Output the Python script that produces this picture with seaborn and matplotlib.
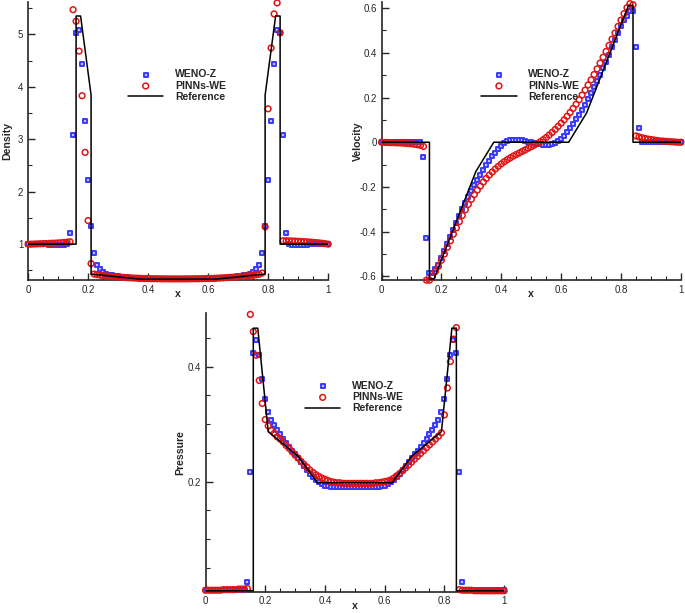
import matplotlib
matplotlib.use("Agg")
import matplotlib.pyplot as plt
import seaborn as sns
from matplotlib.ticker import MultipleLocator, FuncFormatter

# sample locations of the two numerical solutions
x_grid = [0.0, 0.01, 0.02, 0.03, 0.04, 0.05, 0.06, 0.07, 0.08, 0.09,
          0.1, 0.11, 0.12, 0.13, 0.14, 0.15, 0.16, 0.17, 0.18, 0.19,
          0.2, 0.21, 0.22, 0.23, 0.24, 0.25, 0.26, 0.27, 0.28, 0.29,
          0.3, 0.31, 0.32, 0.33, 0.34, 0.35, 0.36, 0.37, 0.38, 0.39,
          0.4, 0.41, 0.42, 0.43, 0.44, 0.45, 0.46, 0.47, 0.48, 0.49,
          0.5, 0.51, 0.52, 0.53, 0.54, 0.55, 0.56, 0.57, 0.58, 0.59,
          0.6, 0.61, 0.62, 0.63, 0.64, 0.65, 0.66, 0.67, 0.68, 0.69,
          0.7, 0.71, 0.72, 0.73, 0.74, 0.75, 0.76, 0.77, 0.78, 0.79,
          0.8, 0.81, 0.82, 0.83, 0.84, 0.85, 0.86, 0.87, 0.88, 0.89,
          0.9, 0.91, 0.92, 0.93, 0.94, 0.95, 0.96, 0.97, 0.98, 0.99, 1.0]

# density
dens_weno = [1.0, 1.0, 1.0, 1.0, 0.995, 0.995, 0.995, 0.99, 0.99, 0.99, 0.99, 0.99, 0.99, 0.995,
             1.21, 3.08, 5.02, 5.08, 4.43, 3.34, 2.22, 1.35, 0.84, 0.61, 0.52,
             0.46, 0.44, 0.42, 0.405, 0.395, 0.385, 0.378, 0.372, 0.366, 0.36, 0.355, 0.35, 0.346, 0.342, 0.338, 0.335,
             0.333, 0.332, 0.331, 0.33, 0.33, 0.33, 0.33, 0.33, 0.33, 0.33, 0.33, 0.33, 0.33, 0.33, 0.33, 0.33, 0.331, 0.332, 0.333,
             0.335, 0.338, 0.342, 0.346, 0.35, 0.355, 0.36, 0.366, 0.372, 0.378, 0.385, 0.395, 0.405, 0.42, 0.44, 0.46,
             0.52, 0.61, 0.84, 1.35, 2.22, 3.34, 4.43, 5.08, 5.02, 3.08, 1.21,
             0.995, 0.99, 0.99, 0.99, 0.99, 0.99, 0.99, 0.995, 0.995, 0.995, 1.0, 1.0, 1.0, 1.0]
dens_pinn = [1.0, 1.0, 1.003, 1.005, 1.008, 1.01, 1.012, 1.015, 1.018, 1.02, 1.023, 1.027, 1.032, 1.038, 1.045,
             5.47, 5.25, 4.68, 3.83, 2.75, 1.45, 0.63, 0.43,
             0.42, 0.41, 0.40, 0.395, 0.39, 0.385, 0.38, 0.375, 0.37, 0.366, 0.362, 0.358, 0.355, 0.352, 0.349, 0.347, 0.345, 0.343,
             0.342, 0.341, 0.34, 0.34, 0.339, 0.339, 0.338, 0.338, 0.338, 0.338, 0.338, 0.338, 0.339, 0.339, 0.34, 0.34, 0.341, 0.342, 0.343,
             0.345, 0.347, 0.349, 0.352, 0.355, 0.358, 0.362, 0.366, 0.37, 0.375, 0.38, 0.385, 0.39, 0.396, 0.402, 0.408, 0.415, 0.425, 0.45,
             1.33, 3.58, 4.74, 5.39, 5.60, 5.03,
             1.065, 1.064, 1.062, 1.06, 1.058, 1.055, 1.052, 1.048, 1.044, 1.04, 1.035, 1.03, 1.024, 1.018, 1.01, 1.0]
ref_dens_x = [0.0, 0.16, 0.16, 0.175, 0.21, 0.21, 0.31, 0.375, 0.625, 0.69, 0.79, 0.79, 0.825, 0.84, 0.84, 1.0]
ref_dens_y = [1.0, 1.0, 5.35, 5.35, 3.84, 0.43, 0.37, 0.333, 0.333, 0.37, 0.43, 3.84, 5.35, 5.35, 1.0, 1.0]

# velocity
vel_weno = [0.0, 0.0, 0.0, 0.0, 0.0, 0.0, 0.0, 0.0, 0.0, 0.0, 0.0, 0.0, 0.0, 0.0,
            -0.064, -0.427, -0.585, -0.585, -0.565, -0.548, -0.52, -0.487, -0.457, -0.425, -0.392, -0.36, -0.33,
            -0.3, -0.272, -0.245, -0.218, -0.193, -0.168, -0.145, -0.123, -0.102, -0.082, -0.063, -0.046, -0.03, -0.016,
            -0.004, 0.004, 0.009, 0.012, 0.012, 0.011, 0.009, 0.006, 0.003, 0.0,
            -0.003, -0.006, -0.009, -0.011, -0.012, -0.012, -0.009, -0.004, 0.004,
            0.016, 0.03, 0.046, 0.063, 0.082, 0.102, 0.123, 0.145, 0.168, 0.193, 0.218, 0.245, 0.272, 0.3,
            0.33, 0.36, 0.392, 0.425, 0.457, 0.487, 0.52, 0.548, 0.565, 0.585, 0.585, 0.427, 0.064,
            0.0, 0.0, 0.0, 0.0, 0.0, 0.0, 0.0, 0.0, 0.0, 0.0, 0.0, 0.0, 0.0, 0.0]
vel_pinn = [0.0, -0.001, -0.001, -0.002, -0.002, -0.003, -0.003, -0.004, -0.005, -0.006, -0.007, -0.009, -0.011, -0.014, -0.019,
            -0.617, -0.617, -0.6, -0.578, -0.555, -0.528, -0.5, -0.47, -0.441, -0.411, -0.383, -0.355, -0.328,
            -0.302, -0.278, -0.255, -0.234, -0.214, -0.196, -0.178, -0.162, -0.147, -0.133, -0.12, -0.108,
            -0.097, -0.087, -0.078, -0.07, -0.062, -0.055, -0.048, -0.041, -0.034, -0.027, -0.02,
            -0.013, -0.006, 0.002, 0.011, 0.021, 0.032, 0.044, 0.057, 0.071, 0.085, 0.1, 0.116, 0.133, 0.151,
            0.17, 0.19, 0.211, 0.233, 0.256, 0.279, 0.303, 0.328, 0.354, 0.38, 0.406, 0.433, 0.461, 0.489,
            0.518, 0.546, 0.575, 0.602, 0.62, 0.615,
            0.028, 0.024, 0.02, 0.017, 0.014, 0.012, 0.01, 0.008, 0.006, 0.005, 0.004, 0.003, 0.002, 0.001, 0.0, 0.0]
ref_vel_x = [0.0, 0.16, 0.16, 0.175, 0.315, 0.375, 0.625, 0.685, 0.825, 0.84, 0.84, 1.0]
ref_vel_y = [0.0, 0.0, -0.612, -0.612, -0.131, 0.0, 0.0, 0.131, 0.612, 0.612, 0.0, 0.0]

# pressure
pres_weno = [0.012, 0.012, 0.012, 0.012, 0.012, 0.012, 0.012, 0.012, 0.012, 0.012, 0.012, 0.012, 0.012, 0.012,
             0.025, 0.217, 0.424, 0.446, 0.42, 0.378, 0.343, 0.322, 0.308, 0.299, 0.29, 0.282, 0.275, 0.268,
             0.261, 0.254, 0.248, 0.241, 0.234, 0.227, 0.22, 0.214, 0.208, 0.203, 0.199, 0.195, 0.193, 0.192,
             0.191, 0.191, 0.191, 0.191, 0.191, 0.191, 0.191, 0.191, 0.191, 0.191, 0.191, 0.191, 0.191, 0.191,
             0.191, 0.191, 0.191,
             0.192, 0.193, 0.195, 0.199, 0.203, 0.208, 0.214, 0.22, 0.227, 0.234, 0.241, 0.248, 0.254, 0.261,
             0.268, 0.275, 0.282, 0.29, 0.299, 0.308, 0.322, 0.343, 0.378, 0.42, 0.446, 0.424, 0.217, 0.025,
             0.012, 0.012, 0.012, 0.012, 0.012, 0.012, 0.012, 0.012, 0.012, 0.012, 0.012, 0.012, 0.012, 0.012]
pres_pinn = [0.011, 0.011, 0.011, 0.011, 0.011, 0.011, 0.012, 0.012, 0.012, 0.012, 0.012, 0.013, 0.013, 0.013, 0.014,
             0.491, 0.461, 0.42, 0.376, 0.336, 0.308, 0.297, 0.289, 0.284, 0.278, 0.274, 0.269, 0.263, 0.258,
             0.252, 0.246, 0.241, 0.235, 0.23, 0.225, 0.22, 0.216, 0.212, 0.209, 0.206, 0.204, 0.202, 0.2,
             0.199, 0.198, 0.198, 0.197, 0.197, 0.197, 0.197, 0.197, 0.197, 0.197, 0.197, 0.197, 0.197, 0.197,
             0.198, 0.198,
             0.199, 0.2, 0.201, 0.203, 0.206, 0.21, 0.214, 0.219, 0.224, 0.229, 0.234, 0.239, 0.244, 0.249,
             0.254, 0.259, 0.264, 0.269, 0.274, 0.279, 0.285, 0.316, 0.363, 0.409, 0.448, 0.468,
             0.012, 0.011, 0.011, 0.011, 0.011, 0.01, 0.01, 0.01, 0.01, 0.01, 0.01, 0.01, 0.01, 0.01, 0.01, 0.01]
ref_pres_x = [0.0, 0.16, 0.16, 0.175, 0.21, 0.31, 0.375, 0.625, 0.69, 0.79, 0.825, 0.84, 0.84, 1.0]
ref_pres_y = [0.01, 0.01, 0.467, 0.467, 0.287, 0.244, 0.198, 0.198, 0.244, 0.287, 0.467, 0.467, 0.01, 0.01]

sns.set_style("ticks")
plt.rcParams["font.family"] = ["Liberation Sans", "DejaVu Sans"]
plt.rcParams["axes.unicode_minus"] = False

BLUE = "#3a3aff"
RED = "#e01414"
fmt = FuncFormatter(lambda v, p: f"{round(v, 6) + 0:g}")


def draw_panel(ax, weno, pinn, rx, ry, ylabel, ylim, ymajor, yminor, ylab_x):
    sns.scatterplot(x=x_grid, y=weno, marker="s", s=11, facecolor="#c4c4ff", edgecolor=BLUE,
                    linewidth=1.4, label="WENO-Z", clip_on=False, zorder=3, ax=ax)
    sns.scatterplot(x=x_grid, y=pinn, marker="o", s=17, facecolor="none", edgecolor=RED,
                    linewidth=1.1, label="PINNs-WE", clip_on=False, zorder=4, ax=ax)
    sns.lineplot(x=rx, y=ry, sort=False, estimator=None, color="black", linewidth=1.1,
                 label="Reference", zorder=5, ax=ax)
    ax.set_xlim(0, 1)
    ax.set_ylim(*ylim)
    ax.xaxis.set_major_locator(MultipleLocator(0.2))
    ax.xaxis.set_minor_locator(MultipleLocator(0.05))
    ax.yaxis.set_major_locator(MultipleLocator(ymajor))
    ax.yaxis.set_minor_locator(MultipleLocator(yminor))
    ax.xaxis.set_major_formatter(fmt)
    ax.yaxis.set_major_formatter(fmt)
    ax.tick_params(which="major", direction="in", length=5, width=1.0, labelsize=7, pad=3.5)
    ax.tick_params(which="minor", direction="in", length=3, width=0.8)
    sns.despine(ax=ax)
    for side in ["left", "bottom"]:
        ax.spines[side].set_linewidth(1.2)
    ax.set_xlabel("x", fontsize=7.6, fontweight="bold")
    ax.set_ylabel(ylabel, fontsize=7.6, fontweight="bold")
    ax.xaxis.set_label_coords(0.5, -0.033)
    ax.yaxis.set_label_coords(ylab_x, 0.5)
    ax.legend(loc="upper left", bbox_to_anchor=(0.333, 0.757), frameon=False,
              handlelength=3.4, handletextpad=1.1, labelspacing=0.12, borderpad=0,
              borderaxespad=0, prop={"weight": "bold", "size": 7.5})


fig = plt.figure(figsize=(6.85, 6.13), dpi=100)
ax1 = fig.add_axes([0.041, 0.543, 0.438, 0.454])
ax2 = fig.add_axes([0.557, 0.543, 0.437, 0.454])
ax3 = fig.add_axes([0.300, 0.035, 0.436, 0.454])

draw_panel(ax1, dens_weno, dens_pinn, ref_dens_x, ref_dens_y, "Density",
           (0.314, 5.62), 1, 0.5, -0.053)
draw_panel(ax2, vel_weno, vel_pinn, ref_vel_x, ref_vel_y, "Velocity",
           (-0.617, 0.628), 0.2, 0.1, -0.063)
draw_panel(ax3, pres_weno, pres_pinn, ref_pres_x, ref_pres_y, "Pressure",
           (0.0087, 0.493), 0.2, 0.05, -0.069)

fig.savefig("out.png", dpi=100)
